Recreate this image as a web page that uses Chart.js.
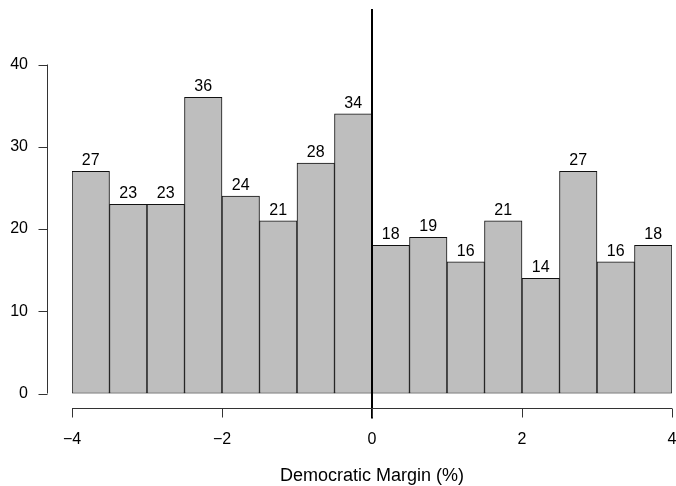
<!DOCTYPE html>
<html>
<head>
<meta charset="utf-8">
<script src="https://cdn.jsdelivr.net/npm/chart.js@4/dist/chart.umd.min.js"></script>
<style>
  html, body { margin: 0; padding: 0; background: #ffffff; }
  #wrap { width: 676px; height: 486px; position: relative; }
</style>
</head>
<body>
<div id="wrap"><canvas id="hist"></canvas></div>
<script>
// Histogram of Democratic margin, 0.5-point bins from -4 to 4
const binCenters = [-3.75, -3.25, -2.75, -2.25, -1.75, -1.25, -0.75, -0.25,
                     0.25,  0.75,  1.25,  1.75,  2.25,  2.75,  3.25,  3.75];
const counts     = [27, 23, 23, 36, 24, 21, 28, 34,
                    18, 19, 16, 21, 14, 27, 16, 18];
const xTicks = [-4, -2, 0, 2, 4];
const yTicks = [0, 10, 20, 30, 40];
const xTitle = 'Democratic Margin (%)';
const cutoff = 0;

const FONT = '"Liberation Sans", Arial, Helvetica, sans-serif';
const fmt = v => (v < 0 ? '\u2212' + Math.abs(v) : String(v));

// Detached base-graphics style axes, the cutoff line and count labels
const decorations = {
  id: 'decorations',
  afterDatasetsDraw(chart) {
    const { ctx } = chart;
    const xs = chart.scales.x, ys = chart.scales.y;

    // count above each bar
    const meta = chart.getDatasetMeta(0);
    ctx.save();
    ctx.fillStyle = '#000';
    ctx.font = '16px ' + FONT;
    ctx.textAlign = 'center';
    ctx.textBaseline = 'alphabetic';
    meta.data.forEach((bar, i) => {
      ctx.fillText(String(counts[i]), bar.x, bar.y - 6);
    });
    ctx.restore();

    // vertical line at the cutoff
    const cx = xs.getPixelForValue(cutoff);
    ctx.save();
    ctx.strokeStyle = '#000';
    ctx.lineWidth = 2;
    ctx.beginPath();
    ctx.moveTo(cx, 9);
    ctx.lineTo(cx, 418.5);
    ctx.stroke();
    ctx.restore();

    // axes
    ctx.save();
    ctx.strokeStyle = '#333';
    ctx.lineWidth = 1;
    const ax = 47.5, ay = 408.5;
    ctx.beginPath();
    ctx.moveTo(ax, ys.getPixelForValue(yTicks[0]));
    ctx.lineTo(ax, ys.getPixelForValue(yTicks[yTicks.length - 1]));
    yTicks.forEach(v => {
      const py = Math.round(ys.getPixelForValue(v)) + 0.5;
      ctx.moveTo(ax, py);
      ctx.lineTo(ax - 9, py);
    });
    ctx.moveTo(xs.getPixelForValue(xTicks[0]), ay);
    ctx.lineTo(xs.getPixelForValue(xTicks[xTicks.length - 1]), ay);
    xTicks.forEach(v => {
      const px = Math.round(xs.getPixelForValue(v)) + 0.5;
      ctx.moveTo(px, ay);
      ctx.lineTo(px, ay + 9);
    });
    ctx.stroke();
    ctx.restore();
  }
};

new Chart(document.getElementById('hist'), {
  type: 'bar',
  data: {
    datasets: [{
      data: binCenters.map((c, i) => ({ x: c, y: counts[i] })),
      backgroundColor: '#bebebe',
      borderColor: '#111',
      borderWidth: 1,
      borderSkipped: false,
      barPercentage: 1,
      categoryPercentage: 1
    }]
  },
  options: {
    responsive: true,
    maintainAspectRatio: false,
    animation: false,
    devicePixelRatio: 1,
    layout: { padding: { top: 64.5, right: 4, bottom: 0, left: 0 } },
    plugins: { legend: { display: false }, tooltip: { enabled: false } },
    scales: {
      x: {
        type: 'linear',
        offset: false,
        min: xTicks[0],
        max: xTicks[xTicks.length - 1],
        afterBuildTicks: s => { s.ticks = xTicks.map(v => ({ value: v })); },
        afterFit: s => { s.height = 92.5; s.paddingLeft = 0; s.paddingRight = 0; },
        grid: { display: false, drawTicks: false, offset: false },
        border: { display: false },
        ticks: {
          padding: 36,
          color: '#000',
          font: { family: FONT, size: 16, lineHeight: 1.2 },
          callback: v => fmt(v),
          maxRotation: 0,
          autoSkip: false
        },
        title: {
          display: true,
          text: xTitle,
          color: '#000',
          font: { family: FONT, size: 18, lineHeight: 1.1 },
          padding: { top: 0, bottom: 0 }
        }
      },
      y: {
        min: yTicks[0],
        max: yTicks[yTicks.length - 1],
        afterBuildTicks: s => { s.ticks = yTicks.map(v => ({ value: v })); },
        afterFit: s => { s.width = 72; },
        grid: { display: false, drawTicks: false },
        border: { display: false },
        ticks: {
          padding: 44,
          color: '#000',
          font: { family: FONT, size: 16 },
          callback: v => fmt(v)
        }
      }
    }
  },
  plugins: [decorations]
});
</script>
</body>
</html>
